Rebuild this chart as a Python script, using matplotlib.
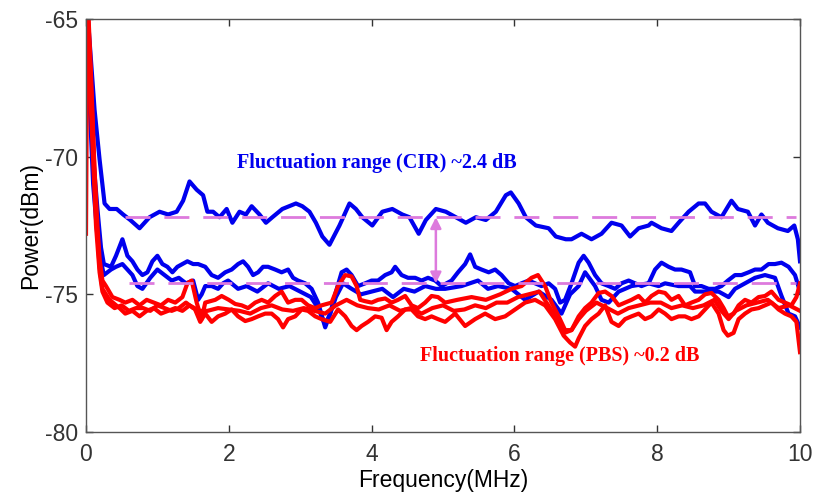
import numpy as np
import matplotlib
matplotlib.use('Agg')
import matplotlib.pyplot as plt

# ============================================================
# DATA
# ============================================================

# upper CIR trace
f_cir1 = [0.0, 0.05, 0.12, 0.19, 0.26, 0.33, 0.43, 0.52, 0.62, 0.75, 0.89, 1.03, 1.15, 1.27, 1.36,
          1.45, 1.55, 1.64, 1.70, 1.78, 1.87, 1.97, 2.05, 2.15, 2.24, 2.32, 2.43, 2.52, 2.61, 2.75,
          2.94, 3.03, 3.13, 3.22, 3.31, 3.41, 3.55, 3.69, 3.78, 3.87, 4.01, 4.15, 4.29, 4.43, 4.53,
          4.66, 4.76, 4.90, 5.04, 5.18, 5.32, 5.46, 5.60, 5.74, 5.88, 5.95, 6.06, 6.16, 6.30, 6.48,
          6.58, 6.72, 6.80, 6.94, 7.08, 7.22, 7.36, 7.50, 7.62, 7.74, 7.88, 7.92, 8.06, 8.20, 8.30,
          8.44, 8.58, 8.67, 8.76, 8.90, 9.04, 9.13, 9.27, 9.37, 9.46, 9.55, 9.69, 9.83, 9.92, 9.97, 10.0]
p_cir1 = [-64.0, -65.8, -68.3, -70.1, -71.7, -71.9, -71.9, -72.1, -72.3, -72.6, -72.2, -72.0, -72.1, -72.0, -71.6,
          -70.9, -71.2, -71.4, -72.0, -72.0, -72.2, -71.9, -72.4, -72.0, -72.1, -71.8, -72.1, -72.4, -72.2, -71.9,
          -71.7, -71.8, -72.0, -72.4, -72.9, -73.2, -72.5, -71.7, -71.9, -72.2, -72.5, -72.0, -71.9, -72.1, -72.2,
          -72.8, -72.3, -71.9, -72.0, -72.2, -72.4, -72.2, -72.3, -72.0, -71.4, -71.3, -71.7, -72.2, -72.5, -72.6,
          -72.9, -73.0, -73.0, -72.8, -73.0, -72.8, -72.4, -72.5, -72.9, -72.6, -72.5, -72.4, -72.6, -72.7, -72.4,
          -72.0, -71.7, -71.7, -72.0, -72.2, -71.6, -71.9, -72.0, -72.5, -72.1, -72.4, -72.6, -72.7, -72.5, -73.0, -73.8]

# lower CIR traces
f_cir2 = [0.0, 0.05, 0.10, 0.16, 0.21, 0.25, 0.35, 0.42, 0.51, 0.58, 0.65, 0.72, 0.79, 0.86, 0.93, 1.00,
          1.07, 1.14, 1.21, 1.28, 1.35, 1.42, 1.50, 1.57, 1.67, 1.76, 1.85, 1.95, 2.04, 2.13, 2.20, 2.27,
          2.34, 2.41, 2.48, 2.55, 2.65, 2.74, 2.83, 2.90, 2.97, 3.07, 3.16, 3.25, 3.35, 3.42, 3.49, 3.58,
          3.65, 3.72, 3.81, 3.91, 4.00, 4.09, 4.19, 4.28, 4.33, 4.42, 4.51, 4.61, 4.70, 4.79, 4.89, 4.98,
          5.12, 5.21, 5.31, 5.38, 5.45, 5.54, 5.64, 5.73, 5.82, 5.92, 6.01, 6.10, 6.20, 6.29, 6.38, 6.48,
          6.57, 6.64, 6.71, 6.80, 6.90, 6.97, 7.04, 7.13, 7.22, 7.32, 7.41, 7.50, 7.60, 7.69, 7.78, 7.88,
          7.97, 8.06, 8.16, 8.25, 8.34, 8.46, 8.53, 8.62, 8.72, 8.81, 8.90, 8.99, 9.09, 9.18, 9.28, 9.37,
          9.46, 9.56, 9.65, 9.74, 9.84, 9.93, 10.0]
p_cir2 = [-64.0, -67.0, -70.0, -71.9, -73.3, -73.9, -74.0, -73.6, -73.0, -73.6, -73.8, -74.1, -74.3, -74.2, -73.8, -73.6,
          -73.9, -74.0, -74.2, -74.0, -73.9, -73.8, -73.9, -73.9, -74.0, -74.3, -74.4, -74.2, -74.1, -73.9, -73.8, -74.0,
          -74.3, -74.2, -74.0, -74.0, -74.1, -74.2, -74.1, -74.4, -74.5, -74.6, -74.8, -75.3, -76.2, -75.7, -75.0, -74.2,
          -74.1, -74.3, -74.7, -74.6, -74.5, -74.5, -74.3, -74.2, -74.0, -74.3, -74.4, -74.4, -74.5, -74.4, -74.5, -74.7,
          -74.5, -74.2, -73.9, -73.55, -74.0, -74.1, -74.2, -74.1, -74.3, -74.6, -74.7, -74.6, -74.5, -74.6, -74.7, -74.6,
          -74.8, -75.3, -75.2, -74.6, -73.85, -73.6, -73.85, -74.3, -74.6, -74.7, -74.8, -74.6, -74.5, -74.6, -74.7, -74.6,
          -74.1, -73.85, -74.0, -74.1, -74.1, -74.2, -74.7, -74.7, -74.8, -74.8, -74.7, -74.5, -74.3, -74.3, -74.2, -74.1,
          -74.1, -73.9, -73.9, -73.85, -74.0, -74.3, -74.9]

f_cir3 = [0.0, 0.05, 0.10, 0.16, 0.21, 0.25, 0.35, 0.42, 0.51, 0.58, 0.65, 0.72, 0.79, 0.90, 1.00, 1.10,
          1.20, 1.30, 1.40, 1.50, 1.57, 1.62, 1.67, 1.76, 1.85, 1.92, 1.99, 2.13, 2.25, 2.40, 2.55, 2.70,
          2.85, 3.00, 3.15, 3.25, 3.35, 3.42, 3.50, 3.60, 3.72, 3.85, 4.00, 4.15, 4.30, 4.45, 4.60, 4.75,
          4.90, 5.03, 5.26, 5.49, 5.63, 5.77, 5.96, 6.15, 6.34, 6.52, 6.66, 6.78, 6.90, 6.99, 7.13, 7.22,
          7.32, 7.46, 7.64, 7.88, 8.02, 8.11, 8.30, 8.46, 8.53, 8.72, 8.86, 9.00, 9.09, 9.23, 9.37, 9.51,
          9.65, 9.74, 9.84, 9.93, 10.0]
p_cir3 = [-64.0, -68.0, -71.0, -72.9, -73.8, -74.3, -74.1, -74.0, -73.9, -74.1, -74.3, -74.7, -74.8, -74.4, -74.1, -74.3,
          -74.5, -74.4, -74.6, -74.5, -75.2, -75.0, -74.7, -74.7, -74.8, -74.6, -74.5, -74.8, -74.7, -74.9, -74.6, -74.8,
          -74.7, -74.9, -75.1, -75.5, -76.1, -75.7, -75.1, -74.6, -74.8, -75.0, -74.9, -74.8, -75.1, -74.8, -74.9, -74.7,
          -74.8, -74.8, -74.7, -74.5, -74.8, -74.7, -74.8, -75.2, -74.9, -75.2, -75.7, -75.0, -74.7, -74.2, -74.7, -75.2,
          -75.3, -74.9, -74.7, -74.6, -74.7, -74.6, -74.7, -74.7, -74.9, -74.9, -74.9, -75.1, -74.8, -74.6, -74.4, -74.3,
          -74.4, -75.05, -75.7, -75.8, -76.2]

# PBS traces
f_pbs1 = [0.0, 0.02, 0.07, 0.12, 0.16, 0.19, 0.23, 0.28, 0.37, 0.47, 0.55, 0.65, 0.75, 0.85, 0.95, 1.05,
          1.15, 1.25, 1.35, 1.42, 1.48, 1.55, 1.62, 1.67, 1.81, 1.90, 2.00, 2.09, 2.18, 2.27, 2.37, 2.46,
          2.55, 2.65, 2.74, 2.83, 2.93, 3.02, 3.11, 3.21, 3.30, 3.44, 3.53, 3.63, 3.72, 3.79, 3.84, 3.91,
          4.00, 4.09, 4.19, 4.28, 4.37, 4.47, 4.56, 4.65, 4.75, 4.84, 4.93, 5.03, 5.20, 5.40, 5.60, 5.80,
          5.96, 6.10, 6.24, 6.33, 6.43, 6.52, 6.62, 6.71, 6.80, 6.90, 6.99, 7.08, 7.18, 7.27, 7.36, 7.46,
          7.55, 7.64, 7.74, 7.83, 7.92, 8.02, 8.11, 8.20, 8.30, 8.39, 8.48, 8.58, 8.67, 8.76, 8.86, 8.93,
          8.99, 9.07, 9.14, 9.23, 9.32, 9.42, 9.51, 9.60, 9.70, 9.79, 9.88, 9.95, 10.0]
p_pbs1 = [-72.8, -64.0, -67.0, -70.5, -72.5, -73.7, -74.5, -74.7, -75.1, -75.2, -75.3, -75.2, -75.4, -75.2, -75.3, -75.4,
          -75.2, -75.3, -75.1, -74.6, -74.5, -75.3, -75.9, -75.3, -75.2, -75.06, -75.2, -75.35, -75.4, -75.5, -75.3, -75.2,
          -75.3, -75.06, -74.9, -75.3, -75.2, -75.2, -75.4, -75.5, -75.4, -75.3, -74.7, -74.3, -74.35, -74.7, -75.2, -75.25,
          -75.3, -75.2, -75.15, -75.3, -75.2, -75.06, -75.4, -75.5, -75.3, -75.06, -75.1, -75.3, -75.2, -75.1, -75.2, -75.0,
          -74.8, -74.7, -74.4, -74.3, -74.7, -75.3, -75.8, -76.3, -76.3, -75.8, -75.5, -75.3, -74.95, -74.9, -75.06, -75.4,
          -75.3, -75.2, -75.06, -75.3, -75.06, -74.9, -74.95, -75.2, -75.06, -75.4, -75.3, -75.2, -75.0, -74.95, -75.2, -75.5,
          -75.8, -75.7, -75.4, -75.2, -75.3, -75.1, -75.06, -74.9, -75.2, -75.3, -75.4, -75.1, -74.6]

f_pbs2 = [0.0, 0.03, 0.08, 0.14, 0.19, 0.23, 0.33, 0.47, 0.55, 0.65, 0.75, 0.85, 0.95, 1.05, 1.15, 1.25,
          1.35, 1.45, 1.52, 1.60, 1.67, 1.76, 1.85, 1.95, 2.04, 2.13, 2.23, 2.32, 2.41, 2.51, 2.60, 2.69,
          2.76, 2.83, 2.93, 3.02, 3.11, 3.21, 3.30, 3.42, 3.53, 3.63, 3.72, 3.79, 3.86, 3.95, 4.05, 4.14,
          4.21, 4.28, 4.37, 4.47, 4.56, 4.65, 4.75, 4.84, 4.93, 5.03, 5.17, 5.31, 5.45, 5.59, 5.73, 5.87,
          6.01, 6.15, 6.29, 6.43, 6.57, 6.69, 6.78, 6.85, 6.90, 6.99, 7.08, 7.18, 7.27, 7.36, 7.46, 7.55,
          7.64, 7.74, 7.83, 7.92, 8.02, 8.11, 8.20, 8.30, 8.39, 8.48, 8.58, 8.67, 8.76, 8.86, 8.93, 8.99,
          9.07, 9.14, 9.23, 9.32, 9.42, 9.51, 9.60, 9.70, 9.79, 9.88, 9.95, 10.0]
p_pbs2 = [-64.0, -65.0, -68.0, -72.0, -74.0, -74.8, -75.2, -75.5, -75.7, -75.6, -75.8, -75.6, -75.5, -75.7, -75.6, -75.5,
          -75.6, -75.4, -75.5, -76.0, -75.7, -76.0, -75.8, -75.7, -75.55, -75.8, -75.97, -75.9, -75.8, -75.7, -75.7, -75.9,
          -76.2, -75.9, -75.8, -75.55, -75.6, -75.8, -75.9, -76.0, -75.55, -75.8, -76.15, -76.3, -76.15, -76.0, -75.8, -75.85,
          -76.3, -76.0, -75.8, -75.55, -75.55, -75.8, -75.9, -75.8, -75.9, -76.0, -75.7, -76.15, -75.9, -75.7, -75.9, -75.8,
          -75.55, -75.3, -75.2, -75.4, -75.9, -76.5, -76.75, -76.9, -76.6, -76.15, -75.9, -75.7, -75.4, -76.0, -76.15, -75.9,
          -75.8, -75.7, -75.9, -75.8, -75.55, -75.7, -75.9, -75.8, -75.8, -75.9, -75.8, -75.55, -75.3, -75.7, -76.3, -76.5,
          -76.4, -75.9, -75.7, -75.55, -75.5, -75.4, -75.3, -75.55, -75.7, -75.8, -76.0, -77.1]

f_pbs3 = [0.0, 0.03, 0.09, 0.14, 0.19, 0.23, 0.30, 0.40, 0.50, 0.60, 0.70, 0.80, 0.90, 1.00, 1.10, 1.20,
          1.30, 1.40, 1.50, 1.60, 1.70, 1.85, 2.00, 2.15, 2.30, 2.45, 2.60, 2.75, 2.90, 3.05, 3.20, 3.35,
          3.50, 3.65, 3.80, 3.95, 4.10, 4.25, 4.40, 4.55, 4.70, 4.85, 5.00, 5.15, 5.30, 5.45, 5.60, 5.75,
          5.90, 6.05, 6.20, 6.35, 6.50, 6.60, 6.70, 6.80, 6.90, 7.00, 7.15, 7.30, 7.45, 7.60, 7.75, 7.90,
          8.05, 8.20, 8.35, 8.50, 8.65, 8.80, 8.90, 9.00, 9.10, 9.25, 9.40, 9.55, 9.70, 9.85, 10.0]
p_pbs3 = [-64.0, -66.0, -69.5, -72.5, -74.2, -74.9, -75.3, -75.5, -75.4, -75.6, -75.5, -75.5, -75.6, -75.4, -75.5, -75.6,
          -75.5, -75.3, -75.5, -75.6, -75.6, -75.5, -75.55, -75.6, -75.7, -75.5, -75.4, -75.55, -75.6, -75.5, -75.6, -75.7,
          -75.4, -75.2, -75.4, -75.5, -75.55, -75.4, -75.6, -75.5, -75.7, -75.5, -75.4, -75.6, -75.55, -75.4, -75.5, -75.3,
          -75.3, -75.1, -75.0, -74.9, -75.5, -75.9, -76.4, -76.3, -75.9, -75.6, -75.3, -75.5, -75.7, -75.5, -75.4, -75.3,
          -75.3, -75.5, -75.4, -75.5, -75.4, -75.2, -75.6, -75.9, -75.6, -75.4, -75.3, -75.2, -75.5, -75.4, -75.6]

# fluctuation range guide lines
range_levels = [-72.2, -74.6]
range_start = [0.55, 0.6]
range_end = 9.95
arrow_f = 4.9

x_ticks = [0, 2, 4, 6, 8, 10]
y_ticks = [-80, -75, -70, -65]

cir_label = 'Fluctuation range (CIR) ~2.4 dB'
pbs_label = 'Fluctuation range (PBS) ~0.2 dB'

# ============================================================
# PLOT
# ============================================================

plt.rcParams['font.family'] = ['Liberation Sans', 'DejaVu Sans']
plt.rcParams['axes.unicode_minus'] = False

fig = plt.figure(figsize=(8.14, 4.92), dpi=100)
ax = fig.add_axes([86 / 814, 60 / 492, 714 / 814, 413 / 492])

blue = '#0000EE'
red = '#FF0000'
violet = '#DD7ADD'

for f, p in [(f_cir1, p_cir1), (f_cir2, p_cir2), (f_cir3, p_cir3)]:
    ax.plot(f, p, color=blue, lw=3.0, solid_joinstyle='round')
for f, p in [(f_pbs1, p_pbs1), (f_pbs2, p_pbs2), (f_pbs3, p_pbs3)]:
    ax.plot(f, p, color=red, lw=3.0, solid_joinstyle='round')

for lvl, x0 in zip(range_levels, range_start):
    ax.plot([x0, range_end], [lvl, lvl], color=violet, lw=2.0, dashes=(9, 5))

ax.annotate('', xy=(arrow_f, range_levels[1]), xytext=(arrow_f, range_levels[0]),
            arrowprops=dict(arrowstyle='<|-|>', color=violet, lw=1.8, mutation_scale=16,
                            shrinkA=0, shrinkB=0))

ax.text(2.11, -70.22, cir_label, color=blue, fontsize=14.5, fontweight='bold',
        family='Liberation Serif', va='center', ha='left')
ax.text(4.68, -77.25, pbs_label, color=red, fontsize=14.5, fontweight='bold',
        family='Liberation Serif', va='center', ha='left')

ax.set_xlim(0, 10)
ax.set_ylim(-80, -65)
ax.set_xticks(x_ticks)
ax.set_yticks(y_ticks)
ax.tick_params(direction='in', length=5, width=1, colors='#333333', labelsize=16.5,
               top=True, right=True, pad=6)
ax.tick_params(axis='x', pad=8)
for s in ax.spines.values():
    s.set_color('#555555')
    s.set_linewidth(1.0)

ax.set_xlabel('Frequency(MHz)', fontsize=16.5, labelpad=2)
ax.set_ylabel('Power(dBm)', fontsize=16.5, labelpad=2)

plt.savefig('out.png', dpi=100)
